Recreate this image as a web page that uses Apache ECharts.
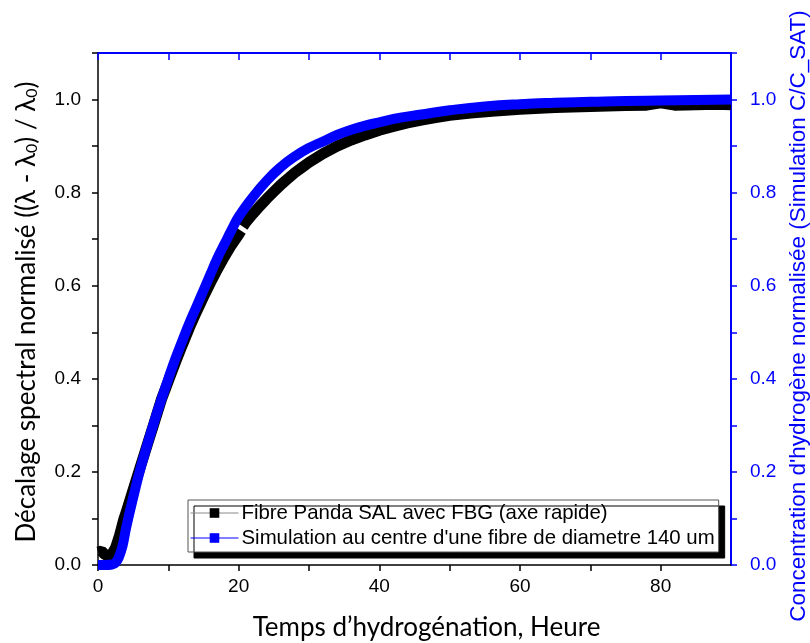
<!DOCTYPE html>
<html><head><meta charset="utf-8">
<script src="https://cdn.jsdelivr.net/npm/echarts@6/dist/echarts.min.js"></script>
<style>html,body{margin:0;padding:0;background:#fff}#c{width:810px;height:643px}</style>
</head><body><div id="c"></div>
<script>
// Experimental: Fibre Panda SAL avec FBG (axe rapide)
const expT = [0,0.5,1,1.5,2,2.5,3,3.7,4,5,6,7,8,9,10,11,12,13,14,15,16,17,18,19,20,20.35,20.5,20.6,21,22,23,24,25,26,27,28,29,30,32,34,36,38,40,42,44,46,48,50,53,56,60,65,70,75,78,80,82,85,88,90];
const expV = [0.028,0.03,0.022,0.02,0.024,0.037,0.06,0.1,0.113,0.162,0.21,0.258,0.306,0.355,0.395,0.435,0.473,0.51,0.544,0.576,0.607,0.636,0.663,0.688,0.71,0.718,null,0.727,0.736,0.754,0.771,0.787,0.802,0.817,0.83,0.843,0.854,0.865,0.884,0.9,0.913,0.924,0.934,0.942,0.95,0.956,0.961,0.966,0.971,0.975,0.979,0.983,0.985,0.987,0.988,0.993,0.988,0.989,0.99,0.989];
// Simulation at fibre centre (diameter 140 um)
const simT = [0,1,2,2.5,3,3.5,4,5,6,7,8,9,10,11,12,13,14,15,16,17,18,19,20,22,24,26,28,30,32,34,36,38,40,43,46,50,55,60,65,70,75,80,85,90];
const simV = [0,0,0.001,0.005,0.018,0.042,0.08,0.145,0.205,0.258,0.308,0.355,0.4,0.443,0.482,0.52,0.555,0.59,0.625,0.66,0.69,0.72,0.748,0.79,0.826,0.855,0.878,0.896,0.91,0.924,0.935,0.944,0.951,0.961,0.968,0.977,0.985,0.99,0.993,0.995,0.997,0.998,0.999,1.0];
const xTicks = [0,20,40,60,80];
const yTicks = [0,0.2,0.4,0.6,0.8,1.0];
const seriesNames = ['Fibre Panda SAL avec FBG (axe rapide)', "Simulation au centre d'une fibre de diametre 140 um"];

const BLUE = '#0000ff';
const LAB = 'Liberation Sans, Arial, sans-serif';
const TITLE = 'Lato, Calibri, sans-serif';
const pairs = (t, v) => t.map((x, i) => [x, v[i]]);

const chart = echarts.init(document.getElementById('c'), null, {renderer: 'canvas'});
const xLab = v => xTicks.indexOf(Math.round(v)) >= 0 ? String(Math.round(v)) : '';
const yLab = v => { const r = Math.round(v * 10) / 10; return yTicks.some(t => Math.abs(t - r) < 1e-9) ? r.toFixed(1) : ''; };

chart.setOption({
  animation: false,
  grid: {left: 98, right: 79, top: 53, bottom: 78, containLabel: false, outerBoundsMode: 'none'},
  legend: {
    show: true, orient: 'vertical', left: 188, top: 500,
    backgroundColor: '#fff', borderColor: '#555', borderWidth: 1,
    shadowColor: '#000', shadowBlur: 0, shadowOffsetX: 6, shadowOffsetY: 6,
    padding: [3, 4, 4, 2], itemGap: 5, itemWidth: 48, itemHeight: 12,
    textStyle: {fontFamily: LAB, fontSize: 20.4, color: '#000', padding: [0, 0, 0, -2]},
    data: [
      {name: seriesNames[0], itemStyle: {color: '#000'}, lineStyle: {color: '#888', width: 1}},
      {name: seriesNames[1], itemStyle: {color: BLUE}, lineStyle: {color: BLUE, width: 1}}
    ]
  },
  xAxis: [
    {type: 'value', min: 0, max: 90, interval: 10, position: 'bottom',
     name: 'Temps d\u2019hydrogénation, Heure', nameLocation: 'middle', nameGap: 50,
     nameTextStyle: {fontFamily: TITLE, fontSize: 26, color: '#000', padding: [0, 0, 0, 24]},
     axisLine: {show: true, onZero: false, lineStyle: {color: '#000', width: 1.5}},
     axisTick: {show: true, length: 6, lineStyle: {color: '#000', width: 1.5}},
     axisLabel: {formatter: xLab, fontFamily: LAB, fontSize: 19, color: '#000', margin: 12, showMaxLabel: false},
     splitLine: {show: false}},
    {type: 'value', min: 0, max: 90, interval: 10, position: 'top',
     axisLine: {show: true, onZero: false, lineStyle: {color: BLUE, width: 2}},
     axisTick: {show: true, inside: true, length: 7, lineStyle: {color: BLUE, width: 1.5}},
     axisLabel: {show: false}, splitLine: {show: false}}
  ],
  yAxis: [
    {type: 'value', min: 0, max: 1.1, interval: 0.1, position: 'left',
     name: '{a|Décalage spectral normalisé ((λ - λ}{s|0}{a|) / λ}{s|0}{a|)}', nameLocation: 'middle', nameGap: 58, nameRotate: 90,
     nameTextStyle: {padding: [0, 6, 0, 0], rich: {a: {fontFamily: TITLE, fontSize: 26, color: '#000'}, s: {fontFamily: TITLE, fontSize: 16, color: '#000', verticalAlign: 'bottom', padding: [10, 0, 0, 0]}}},
     axisLine: {show: true, onZero: false, lineStyle: {color: '#000', width: 1.5}},
     axisTick: {show: true, length: 6, lineStyle: {color: '#000', width: 1.5}},
     axisLabel: {formatter: yLab, fontFamily: LAB, fontSize: 19, color: '#000', margin: 17},
     splitLine: {show: false}},
    {type: 'value', min: 0, max: 1.1, interval: 0.1, position: 'right',
     name: "Concentration d'hydrogène normalisée (Simulation C/C_SAT)", nameLocation: 'middle', nameGap: 56, nameRotate: 90,
     nameTextStyle: {fontFamily: LAB, fontSize: 22.5, color: BLUE, padding: [0, 14, 0, 0]},
     axisLine: {show: true, onZero: false, lineStyle: {color: BLUE, width: 2}},
     axisTick: {show: true, length: 6, lineStyle: {color: BLUE, width: 1.5}},
     axisLabel: {formatter: yLab, fontFamily: LAB, fontSize: 19, color: BLUE, margin: 19},
     splitLine: {show: false}}
  ],
  series: [
    {name: seriesNames[0], type: 'line', xAxisIndex: 0, yAxisIndex: 0, data: pairs(expT, expV),
     symbol: 'rect', symbolSize: 12, showSymbol: false, smooth: false, connectNulls: false,
     lineStyle: {color: '#000', width: 11, cap: 'butt', join: 'bevel'}, itemStyle: {color: '#000'}, z: 2},
    {name: seriesNames[1], type: 'line', xAxisIndex: 0, yAxisIndex: 1, data: pairs(simT, simV),
     symbol: 'rect', symbolSize: 12, showSymbol: false, smooth: true,
     lineStyle: {color: BLUE, width: 10, cap: 'butt'}, itemStyle: {color: BLUE}, z: 3}
  ]
});
</script></body></html>
